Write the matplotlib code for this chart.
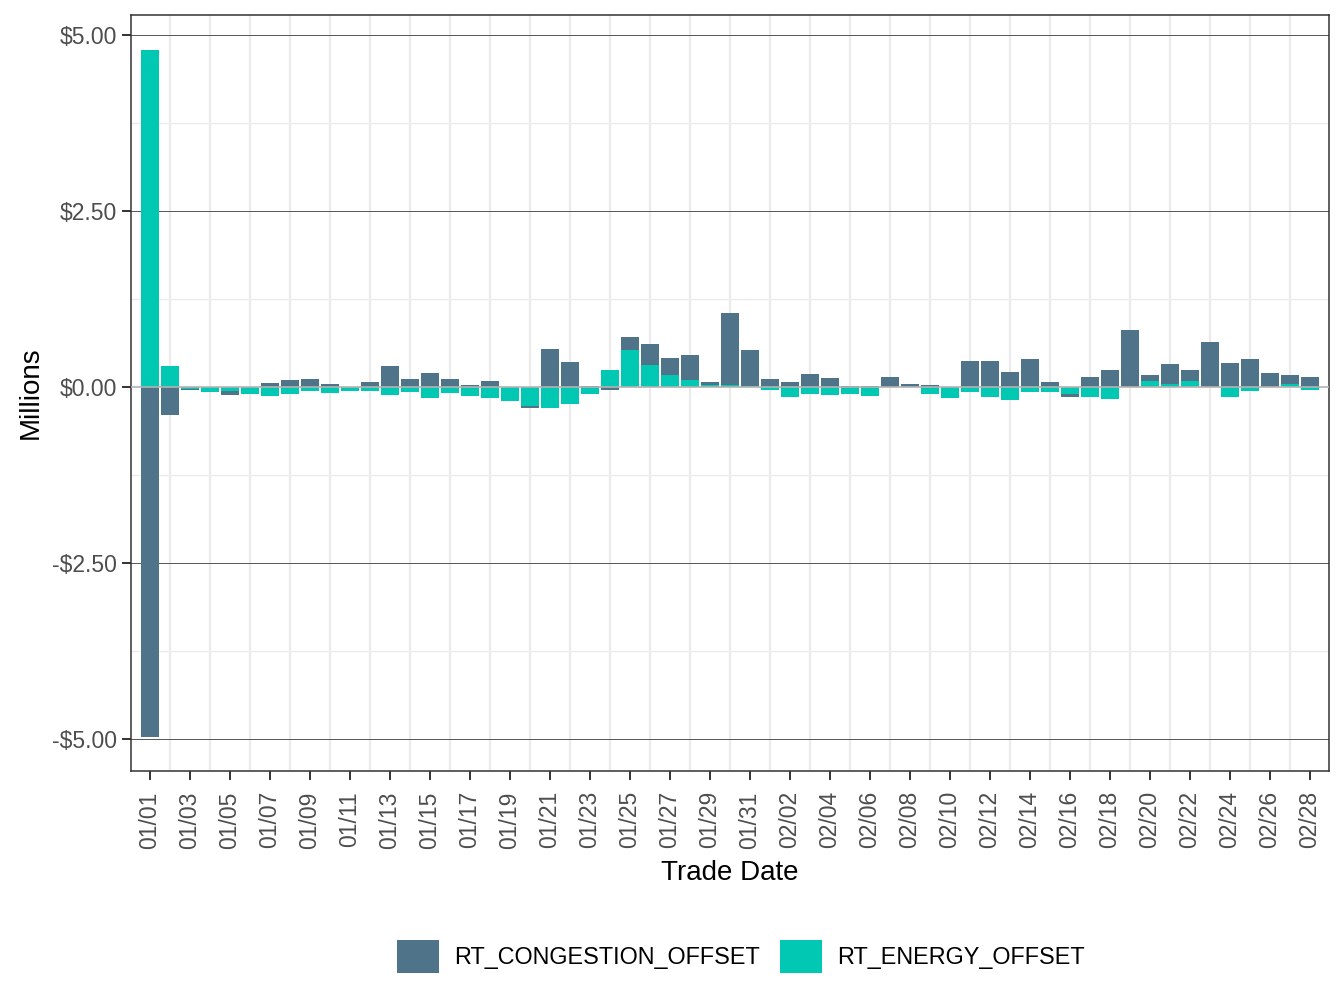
import matplotlib
matplotlib.use('Agg')
import matplotlib.pyplot as plt
from matplotlib.patches import Patch
import numpy as np
import pandas as pd

plt.rcParams['font.family'] = ['Liberation Sans', 'DejaVu Sans']

# daily offsets, millions of dollars
dates = pd.date_range('2021-01-01', '2021-02-28', freq='D')
congestion = [-4.96, -0.387, -0.02, 0.0, -0.047, 0.0, 0.066, 0.109, 0.123, 0.052,
              0.0, 0.08, 0.307, 0.123, 0.208, 0.123, 0.038, 0.094, 0.0, -0.028,
              0.548, 0.364, 0.024, -0.033, 0.184, 0.297, 0.241, 0.354, 0.042, 1.02,
              0.51, 0.123, 0.08, 0.194, 0.137, 0.014, 0.014, 0.151, 0.052, 0.038,
              0.0, 0.378, 0.378, 0.222, 0.406, 0.08, -0.042, 0.151, 0.25, 0.817,
              0.094, 0.283, 0.165, 0.647, 0.349, 0.406, 0.198, 0.127, 0.151]
energy = [4.80, 0.307, -0.02, -0.06, -0.057, -0.09, -0.118, -0.09, -0.047, -0.076,
          -0.047, -0.047, -0.104, -0.061, -0.146, -0.076, -0.118, -0.146, -0.189, -0.26,
          -0.288, -0.231, -0.09, 0.25, 0.534, 0.321, 0.179, 0.109, 0.038, 0.038,
          0.024, -0.042, -0.132, -0.09, -0.104, -0.09, -0.118, 0.0, 0.0, -0.09,
          -0.146, -0.061, -0.132, -0.175, -0.061, -0.061, -0.09, -0.132, -0.16, 0.0,
          0.085, 0.052, 0.085, 0.0, -0.132, -0.047, 0.01, 0.052, -0.033]

c_cong = '#4F7489'
c_en = '#00C8B3'

cong = np.array(congestion)
en = np.array(energy)
x = np.arange(len(dates))

fig = plt.figure(figsize=(13.44, 10.08), dpi=100)
ax = fig.add_axes([0.0975, 0.2351, 0.8913, 0.75])

# ggplot-style stacking: energy next to zero, congestion stacked beyond it
en_pos = np.where(en > 0, en, 0)
en_neg = np.where(en < 0, en, 0)
cong_base = np.where(cong >= 0, en_pos, en_neg)
ax.bar(x, en, width=0.9, color=c_en, zorder=3)
ax.bar(x, cong, width=0.9, bottom=cong_base, color=c_cong, zorder=3)
ax.axhline(0, color='#b3b3b3', lw=1.2, zorder=4)

# grid
for v in [-5, -2.5, 2.5, 5]:
    ax.axhline(v, color='#555555', lw=0.7, zorder=1)
for v in [-3.75, -1.25, 1.25, 3.75]:
    ax.axhline(v, color='#ebebeb', lw=1.0, zorder=0)
for v in x[1::2]:
    ax.axvline(v, color='#ebebeb', lw=1.6, zorder=0)

ax.set_xlim(-0.95, len(x) - 1 + 0.95)
ax.set_ylim(-5.45, 5.29)
ax.set_yticks([-5, -2.5, 0, 2.5, 5])
ax.set_yticklabels(['-$5.00', '-$2.50', '$0.00', '$2.50', '$5.00'])
ax.set_xticks(x[::2])
ax.set_xticklabels([d.strftime('%m/%d') for d in dates[::2]], rotation=90)
ax.tick_params(axis='both', labelsize=16.5, labelcolor='#4d4d4d', color='#333333',
               length=6.5, width=1.4)
ax.tick_params(axis='x', pad=8)
ax.set_xlabel('Trade Date', fontsize=20, labelpad=8)
ax.set_ylabel('Millions', fontsize=20, labelpad=6)
for s in ax.spines.values():
    s.set_color('#333333')
    s.set_linewidth(1.1)

handles = [Patch(facecolor=c_cong, label='RT_CONGESTION_OFFSET'),
           Patch(facecolor=c_en, label='RT_ENERGY_OFFSET')]
fig.legend(handles=handles, loc='center', bbox_to_anchor=(0.551, 0.051), ncol=2,
           frameon=False, fontsize=16.8, handlelength=1.8, handleheight=1.8,
           handletextpad=0.65, columnspacing=0.85)

fig.savefig('out.png', dpi=100)
